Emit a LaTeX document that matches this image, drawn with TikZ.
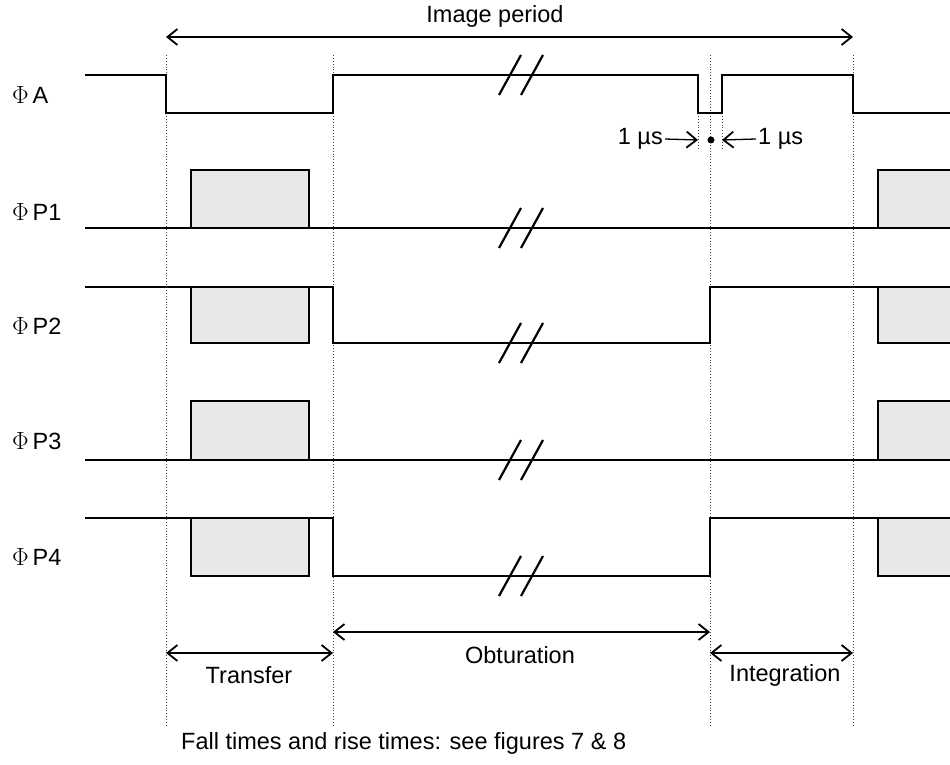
\documentclass[tikz,border=0pt]{standalone}
\usepackage{fontspec}
\setmainfont{Liberation Sans}
\usetikzlibrary{arrows.meta}
\tikzset{
  signal/.style={line width=2.6pt, line join=miter},
  pulse/.style={line width=2.6pt, fill=black!9},
  guide/.style={dotted, line width=0.9pt, black!75},
  span/.style={line width=1.3pt, {Straight Barb[length=10pt,width=16pt,line width=1.8pt]}-{Straight Barb[length=10pt,width=16pt,line width=1.8pt]}},
  tick/.style={line width=1.3pt, -{Straight Barb[length=10pt,width=16pt,line width=1.8pt]}},
  breakmark/.style={line width=2.2pt}
}

\begin{document}
\begin{tikzpicture}[x=1pt, y=-1pt, font=\fontsize{23.5}{28}\selectfont]
    \useasboundingbox (0,0) rectangle (950,765);

    % Time marks
    \coordinate (T0) at (166,37);
    \coordinate (T3) at (853,37);
    \coordinate (B0) at (166,653);
    \coordinate (B1) at (333,653);
    \coordinate (B2) at (710,653);
    \coordinate (B3) at (853,653);
    \coordinate (O1) at (333,632);
    \coordinate (O2) at (710,632);

    % Dotted guides
    \foreach \x in {166,333,710,853}
        \draw[guide] (\x,55) -- (\x,727);
    \draw[guide] (698,113) -- (698,150);
    \draw[guide] (722,113) -- (722,150);

    % Signal names
    \node[anchor=west, inner sep=0pt] (nA)  at (12,95)  {$\Phi$\,A};
    \node[anchor=west, inner sep=0pt] (nP1) at (12,212) {$\Phi$\,P1};
    \node[anchor=west, inner sep=0pt] (nP2) at (12,326) {$\Phi$\,P2};
    \node[anchor=west, inner sep=0pt] (nP3) at (12,441) {$\Phi$\,P3};
    \node[anchor=west, inner sep=0pt] (nP4) at (12,557) {$\Phi$\,P4};

    % Transfer pulses
    \foreach \hi/\lo in {170/228,287/343,401/460,518/576} {
        \draw[pulse] (191,\lo) rectangle (309,\hi);
        \filldraw[pulse] (950,\lo) -- (878,\lo) -- (878,\hi) -- (950,\hi);
    }

    % Waveforms
    \draw[signal] (85,75) -- (166,75) -- (166,113) -- (333,113) -- (333,75)
        -- (698,75) -- (698,113) -- (722,113) -- (722,75) -- (853,75)
        -- (853,113) -- (950,113);
    \draw[signal] (85,228) -- (950,228);
    \draw[signal] (85,287) -- (333,287) -- (333,343) -- (710,343) -- (710,287) -- (950,287);
    \draw[signal] (85,460) -- (950,460);
    \draw[signal] (85,518) -- (333,518) -- (333,576) -- (710,576) -- (710,518) -- (950,518);

    % Breaks
    \foreach \y in {75,228,343,460,576}
        \foreach \x in {510,532}
            \draw[breakmark] (\x-11,\y+20) -- (\x+11,\y-20);

    % 1 us gaps
    \coordinate (g1) at (698,140);
    \coordinate (g2) at (722,140);
    \fill (711,140) circle (3.5pt);
    \node[anchor=east, inner sep=2pt] (us1) at (665,139) {1 µs};
    \node[anchor=west, inner sep=2pt] (us2) at (756,139) {1 µs};
    \draw[tick] (us1.east) -- (g1);
    \draw[tick] (us2.west) -- (g2);

    % Periods
    \draw[span] (T0) -- (T3);
    \node (period) at (495,16) {Image period};
    \draw[span] (B0) -- (B1);
    \node (transfer) at (249,675) {Transfer};
    \draw[span] (O1) -- (O2);
    \node (obtur) at (520,655) {Obturation};
    \draw[span] (B2) -- (B3);
    \node (integ) at (785,675) {Integration};

    \node[anchor=west, inner sep=0pt] (note) at (181,743) {Fall times and rise times: see figures 7 \& 8};

\end{tikzpicture}
\end{document}
